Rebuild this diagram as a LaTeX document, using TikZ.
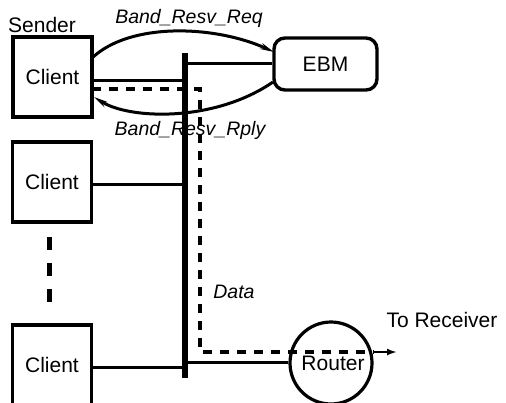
\documentclass[tikz,border=0pt]{standalone}
\usepackage{fontspec}
\setmainfont{Liberation Sans}
\usetikzlibrary{arrows.meta}
\begin{document}
\begin{tikzpicture}[x=1pt,y=-1pt,
  hostbox/.style={draw,line width=3.4pt,minimum width=79pt,minimum height=80pt,inner sep=0pt,
    font=\fontsize{21}{25}\selectfont},
  ebmbox/.style={draw,line width=3.4pt,rounded corners=11pt,minimum width=103pt,minimum height=52pt,
    inner sep=0pt,font=\fontsize{21}{25}\selectfont},
  routernode/.style={draw,circle,line width=3.2pt,minimum size=82pt,inner sep=0pt},
  plain/.style={font=\fontsize{21}{25}\selectfont,inner sep=0pt},
  msg/.style={font=\fontsize{19.5}{23}\selectfont\itshape,inner sep=0pt},
  link/.style={line width=3pt},
  busline/.style={line width=5.2pt},
  flow/.style={line width=3.4pt,dash pattern=on 9pt off 8pt},
  signal/.style={line width=3pt,-{Stealth[length=14pt,width=6pt]}},
  more/.style={line width=5pt,dash pattern=on 13pt off 13pt}
]
\useasboundingbox (0,0) rectangle (506,402);
\clip (0,0) rectangle (506,402);

% hosts, bandwidth manager and router
\node[hostbox] (c1) at (52.5,77) {Client};
\node[hostbox] (c2) at (52,182) {Client};
\node[hostbox] (c3) at (52,365) {Client};
\node[ebmbox] (ebm) at (325.5,64) {EBM};
\node[routernode] (rt) at (331,363) {};
\node[plain] (rtl) at (333,363) {Router};

\node[plain] (snd) at (42,25) {Sender};
\node[plain] (rcv) at (442,320) {To Receiver};
\node[msg] (req) at (189,18) {Band\_Resv\_Req};
\node[msg] (rply) at (190,130) {Band\_Resv\_Rply};
\node[msg] (dat) at (234,292) {Data};

% shared bus
\coordinate (bt) at (185,53);
\coordinate (bb) at (185,378);
\draw[busline] (bt) -- (bb);

% attachments to the bus
\coordinate (a1) at (185,80);
\coordinate (a2) at (185,184);
\coordinate (a3) at (185,367);
\coordinate (ae) at (185,63);
\coordinate (ar) at (185,362);
\draw[link] ([yshift=-3pt]c1.east) -- (a1);
\draw[link] ([yshift=-2pt]c2.east) -- (a2);
\draw[link] ([yshift=-2pt]c3.east) -- (a3);
\draw[link] (ae) -- (ebm.west |- ae);
\draw[link] (ar) -- (rt.west |- ar);

% further clients
\coordinate (m1) at (49,237);
\coordinate (m2) at (49,304);
\draw[more] (m1) -- (m2);

% reservation request and reply
\coordinate (q0) at (92,58);
\coordinate (q1) at (274,52);
\coordinate (p0) at (273,82);
\coordinate (p1) at (94,97);
\draw[signal] (q0) .. controls (130,22) and (215,25) .. (q1);
\draw[signal] (p0) .. controls (215,122) and (130,120) .. (p1);

% data path
\coordinate (d0) at (92,89);
\coordinate (d1) at (200,89);
\coordinate (d2) at (200,352);
\coordinate (d3) at (374,352);
\coordinate (d4) at (397,352);
\draw[flow] (d0) -- (d1) -- (d2) -- (d3);
\draw[line width=2pt,-{Latex[open,length=10pt,width=7pt]}] (d3) -- (d4);
\end{tikzpicture}
\end{document}
